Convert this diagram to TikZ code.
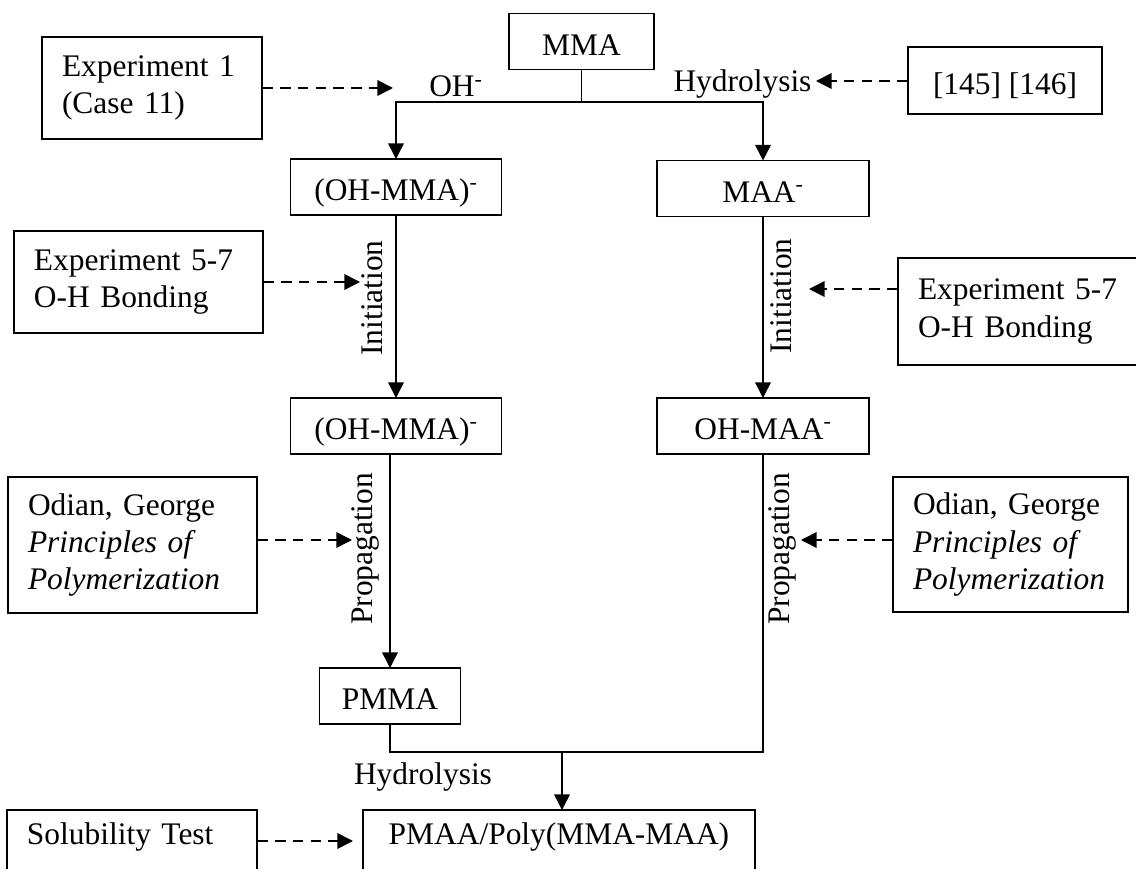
\documentclass[tikz,border=0pt]{standalone}
\usepackage{fontspec}
\setmainfont{Liberation Serif}
\usetikzlibrary{arrows.meta}
\hyphenpenalty=10000

\begin{document}
\begin{tikzpicture}[
    x = 0.7pt,
    y = -0.7pt,
    >={Triangle[length=11pt, width=11pt]},
    line width=1.1pt,
    box/.style = {draw, font=\fontsize{22}{26}\selectfont, inner sep=0pt,
              outer sep=0pt, minimum height=39.2pt, text height=19pt, text depth=0pt},
    srcbox/.style = {draw, font=\fontsize{22}{26}\selectfont, align=left,
              inner xsep=14pt, inner ysep=0pt, outer sep=0pt, text width=#1},
    lbl/.style = {font=\fontsize{22}{26}\selectfont, inner sep=1pt},
    dashedarrow/.style = {->, dash pattern=on 7.5pt off 5pt},
    ]

\useasboundingbox (0,0) rectangle (1136,869);
\clip (0,0) rectangle (1136,869);

% reaction path
\node[box, minimum width=101.5pt] (mma) at (581.5,41.5) {MMA};
\node[box, minimum width=147.7pt] (ohmma_1) at (396,187) {(OH-MMA)\textsuperscript{-}};
\node[box, minimum width=148.4pt] (maa) at (763,188.5) {MAA\textsuperscript{-}};
\node[box, minimum width=147.7pt] (ohmma_2) at (396,426) {(OH-MMA)\textsuperscript{-}};
\node[box, minimum width=148.4pt] (ohmaa) at (763,426) {OH-MAA\textsuperscript{-}};
\node[box, minimum width=98.7pt] (pmma) at (390,696) {PMMA};
\node[box, minimum width=274.4pt, minimum height=44.8pt, text height=15pt,
      text depth=12pt] (pmaa) at (559,842) {PMAA/Poly(MMA-MAA)};

% sources
\node[srcbox=126pt, minimum height=71.4pt] (exp_1) at (152,88) {Experiment 1\\(Case 11)};
\node[box, minimum width=135.8pt, minimum height=46.9pt] (refs) at (1005,80.5) {[145] [146]};
\node[srcbox=146.3pt, minimum height=71.4pt] (exp57_l) at (138.5,282) {Experiment 5-7\\O-H Bonding};
\node[srcbox=146.3pt, minimum height=74.9pt] (exp57_r) at (1022.5,311.5) {Experiment 5-7\\O-H Bonding};
\node[srcbox=146.3pt, minimum height=95.2pt] (odian_l) at (132.5,545)
    {Odian, George\\\textit{Principles of}\\\textit{Polymerization}};
\node[srcbox=136.5pt, minimum height=94.5pt] (odian_r) at (1010.5,544.5)
    {Odian, George\\\textit{Principles of}\\\textit{Polymerization}};
\node[srcbox=147pt, minimum height=44.8pt, text height=15pt, text depth=12pt]
    (solub) at (132,842) {Solubility Test};

% step labels
\node[lbl, anchor=base] (oh) at (456,97) {OH\textsuperscript{-}};
\node[lbl, anchor=base] (hydro_top) at (742.5,92) {Hydrolysis};
\node[lbl, anchor=base] (hydro_bot) at (423,785) {Hydrolysis};
\node[lbl, rotate=90] (init_l) at (372.5,298) {Initiation};
\node[lbl, rotate=90] (init_r) at (781,296) {Initiation};
\node[lbl, rotate=90] (prop_l) at (365,549) {Propagation};
\node[lbl, rotate=90] (prop_r) at (782,549) {Propagation};

% solid connectors
\coordinate (split) at (581.5,102);
\coordinate (merge) at (562,752);
\draw (mma) -- (split);
\draw [->] (split) -| (ohmma_1);
\draw [->] (split) -| (maa);
\draw [->] (ohmma_1) -- (ohmma_2);
\draw [->] (maa) -- (ohmaa);
\draw [->] (ohmma_2.south -| pmma) -- (pmma);
\draw (pmma) |- (merge) -| (ohmaa);
\draw [->] (merge) -- (merge |- pmaa.north);

% dashed hints
\coordinate (oh_in) at (393,88);
\coordinate (hydro_in) at (816,81);
\coordinate (init_l_in) at (360,282);
\coordinate (init_r_in) at (809,289);
\coordinate (prop_l_in) at (352,540);
\coordinate (prop_r_in) at (801,540);
\coordinate (solub_in) at (353,841);
\draw [dashedarrow] (exp_1.east |- oh_in) -- (oh_in);
\draw [dashedarrow] (refs.west |- hydro_in) -- (hydro_in);
\draw [dashedarrow] (exp57_l.east |- init_l_in) -- (init_l_in);
\draw [dashedarrow] (exp57_r.west |- init_r_in) -- (init_r_in);
\draw [dashedarrow] (odian_l.east |- prop_l_in) -- (prop_l_in);
\draw [dashedarrow] (odian_r.west |- prop_r_in) -- (prop_r_in);
\draw [dashedarrow] (solub.east |- solub_in) -- (solub_in);

\end{tikzpicture}
\end{document}
